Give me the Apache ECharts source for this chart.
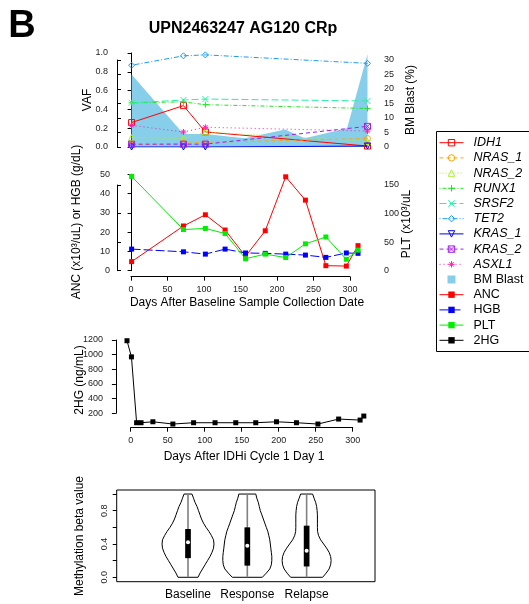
<!DOCTYPE html>
<html>
<head>
<meta charset="utf-8">
<script src="https://cdn.jsdelivr.net/npm/echarts@6/dist/echarts.min.js"></script>
<style>html,body{margin:0;padding:0;background:#fff}#main{width:529px;height:604px}</style>
</head>
<body>
<div id="main"></div>
<script>
// --- top panel: VAF per gene + bone marrow blasts
var vafDays = [0, 71, 101, 323];
var vafIDH1 = [0.26, 0.44, 0.16, 0.01];
var vafNRAS1 = [0.02, 0.04, 0.05, 0.09];
var vafNRAS2 = [0.10, 0.09, 0.16, 0.06];
var vafRUNX1 = [0.47, 0.48, 0.45, 0.41];
var vafSRSF2 = [0.47, 0.50, 0.51, 0.49];
var vafTET2 = [0.87, 0.97, 0.98, 0.89];
var vafKRAS1 = [0.0, 0.0, 0.0, 0.01];
var vafKRAS2 = [0.03, 0.03, 0.03, 0.22];
var vafASXL1 = [0.23, 0.16, 0.21, 0.17];
var blastDays = [0, 71, 101, 155, 210, 237, 295, 323];
var blastPct = [25, 4.5, 4.5, 3, 6, 3, 6.5, 32];

// --- middle panel: counts
var cbcDays = [0, 71, 101, 128, 156, 183, 211, 238, 266, 294, 310];
var anc = [4.7, 23.2, 29.0, 21.1, 7.5, 20.7, 48.7, 36.6, 2.6, 2.4, 13.0];
var hgb = [11.2, 9.8, 8.6, 11.2, 9.2, 9.0, 8.6, 8.1, 6.9, 9.2, 9.0];
var plt = [165, 72, 74, 65, 21, 29, 23, 47, 59, 20, 36];

// --- 2HG panel
var hgDays = [-5, 1, 8, 14, 30, 57, 85, 114, 142, 169, 197, 224, 253, 281, 310, 315];
var hg2 = [1190, 970, 72, 72, 85, 54, 72, 72, 72, 72, 85, 72, 54, 122, 108, 163];

// --- methylation violins (half widths in category units at each level)
var violinGroups = ['Baseline', 'Response', 'Relapse'];
var violinLevels = [0, 0.05, 0.1, 0.15, 0.2, 0.25, 0.3, 0.35, 0.4, 0.45, 0.5, 0.55, 0.6, 0.65, 0.7, 0.75, 0.8, 0.85, 0.9, 0.95, 1.0];
var violinBaseline = [.169, .202, .245, .287, .329, .371, .405, .430, .438, .430, .396, .354, .304, .261, .228, .202, .177, .152, .118, .093, .067];
var violinResponse = [.253, .320, .379, .405, .413, .413, .405, .396, .388, .379, .363, .346, .320, .295, .270, .245, .219, .202, .185, .160, .143];
var violinRelapse = [.270, .329, .379, .405, .413, .405, .379, .337, .287, .236, .202, .185, .182, .182, .182, .182, .177, .169, .152, .126, .101];
var violinQ1 = [0.23, 0.14, 0.13];
var violinMedian = [0.42, 0.38, 0.32];
var violinQ3 = [0.58, 0.60, 0.62];
var violinMin = [0, 0, 0];
var violinMax = [1, 1, 1];

var FONT = '"Liberation Sans", Arial, Helvetica, sans-serif';
var INK = '#222';

var geneStyle = {
  IDH1:   {color: '#ff0000', dash: 'solid', symbol: 'path://M0,0L10,0L10,10L0,10Z'},
  NRAS_1: {color: '#ffa500', dash: [4, 3], symbol: 'circle'},
  NRAS_2: {color: '#a8f02a', dash: [1, 2], symbol: 'triangle'},
  RUNX1:  {color: '#1ee61e', dash: [1, 2, 4, 2], symbol: 'path://M0,5L10,5M5,0L5,10'},
  SRSF2:  {color: '#2bf0a5', dash: [7, 3], symbol: 'path://M0,0L10,10M10,0L0,10'},
  TET2:   {color: '#1e9bf0', dash: [1, 2, 5, 2], symbol: 'diamond'},
  KRAS_1: {color: '#0000ee', dash: 'solid', symbol: 'triangle', rotate: 180},
  KRAS_2: {color: '#a020f0', dash: [4, 3], symbol: 'path://M0,0L10,0L10,10L0,10Z M0,0L10,10M10,0L0,10'},
  ASXL1:  {color: '#ff1db4', dash: [1, 3], symbol: 'path://M0,5L10,5M5,0L5,10M1.5,1.5L8.5,8.5M8.5,1.5L1.5,8.5'}
};
var geneValues = {
  IDH1: vafIDH1, NRAS_1: vafNRAS1, NRAS_2: vafNRAS2, RUNX1: vafRUNX1, SRSF2: vafSRSF2,
  TET2: vafTET2, KRAS_1: vafKRAS1, KRAS_2: vafKRAS2, ASXL1: vafASXL1
};

function pairs(xs, ys) {
  return xs.map(function (x, i) { return [x, ys[i]]; });
}

function geneSeries(name) {
  var s = geneStyle[name];
  return {
    name: name, type: 'line', xAxisIndex: 0, yAxisIndex: 0,
    data: pairs(vafDays, geneValues[name]),
    symbol: s.symbol, symbolSize: 6, symbolRotate: s.rotate || 0,
    lineStyle: {color: s.color, width: 1, type: s.dash},
    itemStyle: {color: 'rgba(0,0,0,0)', borderColor: s.color, borderWidth: 1},
    z: 3, silent: true
  };
}

function countSeries(name, color, xi, yi, xs, ys, dash) {
  return {
    name: name, type: 'line', xAxisIndex: xi, yAxisIndex: yi,
    data: pairs(xs, ys), symbol: 'rect', symbolSize: 5,
    lineStyle: {color: color, width: 1, type: dash || 'solid'},
    itemStyle: {color: color}, z: 3, silent: true
  };
}

function hiddenAxis(g, min, max) {
  return {type: 'value', gridIndex: g, show: false, min: min, max: max};
}

function plain(v) { return String(v); }

function tickAxis(g, pos, min, max, step, extra) {
  var a = {
    type: 'value', gridIndex: g, position: pos, min: min, max: max, interval: step,
    axisLine: {show: true, lineStyle: {color: '#000', width: 1}},
    axisTick: {show: true, inside: false, length: 4, lineStyle: {color: '#000'}},
    axisLabel: {fontFamily: FONT, fontSize: 9, color: INK, margin: 7, formatter: plain},
    splitLine: {show: false}
  };
  for (var k in extra) a[k] = extra[k];
  return a;
}

var violinWidths = [violinBaseline, violinResponse, violinRelapse];

function renderViolin(params, api) {
  var k = params.dataIndex;
  var cx = api.value(0);
  var prof = violinWidths[k];
  var right = [], left = [];
  for (var i = 0; i < violinLevels.length; i++) {
    right.push(api.coord([cx + prof[i], violinLevels[i]]));
    left.push(api.coord([cx - prof[i], violinLevels[i]]));
  }
  var pts = right.concat(left.reverse());
  var wTop = api.coord([cx, violinMax[k]]);
  var wBot = api.coord([cx, violinMin[k]]);
  var b1 = api.coord([cx - 0.048, violinQ3[k]]);
  var b2 = api.coord([cx + 0.048, violinQ1[k]]);
  var med = api.coord([cx, violinMedian[k]]);
  return {
    type: 'group', children: [
      {type: 'polygon', shape: {points: pts}, style: {fill: '#fff', stroke: '#000', lineWidth: 1}},
      {type: 'line', shape: {x1: wTop[0], y1: wTop[1], x2: wBot[0], y2: wBot[1]}, style: {stroke: '#808080', lineWidth: 1.6}},
      {type: 'rect', shape: {x: b1[0], y: b1[1], width: b2[0] - b1[0], height: b2[1] - b1[1]}, style: {fill: '#000'}},
      {type: 'circle', shape: {cx: med[0], cy: med[1], r: 2}, style: {fill: '#fff'}}
    ]
  };
}

var series = [
  {
    name: 'BM Blast', type: 'line', xAxisIndex: 0, yAxisIndex: 1,
    data: pairs(blastDays, blastPct), symbol: 'none',
    lineStyle: {width: 0}, areaStyle: {color: '#87ceeb', opacity: 1},
    itemStyle: {color: '#87ceeb'}, z: 1, silent: true
  }
];
Object.keys(geneStyle).forEach(function (g) { series.push(geneSeries(g)); });
series.push(countSeries('ANC', '#ff0000', 2, 3, cbcDays, anc));
series.push(countSeries('HGB', '#0000ff', 2, 3, cbcDays, hgb, [9, 3]));
series.push(countSeries('PLT', '#00ee00', 2, 4, cbcDays, plt));
series.push(countSeries('2HG', '#000000', 5, 7, hgDays, hg2));
series.push({
  type: 'custom', xAxisIndex: 8, yAxisIndex: 10,
  data: violinGroups.map(function (g, i) { return [i + 1]; }),
  renderItem: renderViolin, silent: true, z: 2
});

var legendData = Object.keys(geneStyle).map(function (g) {
  return {name: g, textStyle: {fontStyle: 'italic'}};
});
legendData.push({name: 'BM Blast', icon: 'path://M0,0L10,0L10,10L0,10Z'});
['ANC', 'HGB', 'PLT', '2HG'].forEach(function (n) { legendData.push({name: n}); });

function vtext(str, x, y, size, rot) {
  return {
    type: 'text', x: x, y: y, rotation: rot || 0, silent: true,
    style: {text: str, font: size + 'px ' + FONT, fill: '#000', align: 'center', verticalAlign: 'middle'}
  };
}

var chart = echarts.init(document.getElementById('main'));
chart.setOption({
  animation: false,
  backgroundColor: '#fff',
  grid: [
    {left: 117, top: 53, width: 260, height: 94},
    {left: 117, top: 60, width: 260, height: 87},
    {left: 117, top: 174.3, width: 260, height: 96.4},
    {left: 117, top: 185, width: 260, height: 85.7},
    {left: 131, top: 200, width: 219, height: 76.7},
    {left: 115.9, top: 340, width: 251.6, height: 88},
    {left: 115.9, top: 340, width: 251.6, height: 73.3},
    {left: 130.7, top: 350, width: 222, height: 77.7},
    {left: 116.7, top: 490, width: 258.3, height: 91.7, show: true, borderColor: '#000', borderWidth: 1, backgroundColor: 'transparent'},
    {left: 116.7, top: 494.05, width: 258.3, height: 83.25},
    {left: 128.7, top: 500, width: 237.2, height: 81.7}
  ].map(function (g) { g.outerBoundsMode = 'none'; g.containLabel = false; return g; }),
  xAxis: [
    hiddenAxis(0, -20, 336),
    hiddenAxis(1, 0, 1),
    hiddenAxis(2, -20, 336),
    hiddenAxis(3, 0, 1),
    tickAxis(4, 'bottom', 0, 300, 50, {axisLabel: {fontFamily: FONT, fontSize: 9, color: INK, margin: 8}}),
    hiddenAxis(5, -20, 320),
    hiddenAxis(6, 0, 1),
    tickAxis(7, 'bottom', 0, 300, 50, {axisLabel: {fontFamily: FONT, fontSize: 9, color: INK, margin: 8}}),
    hiddenAxis(8, -0.2024, 4.153),
    hiddenAxis(9, 0, 1),
    tickAxis(10, 'bottom', 0, 4, 1, {
      axisLine: {show: false}, axisTick: {show: false},
      axisLabel: {fontFamily: FONT, fontSize: 12, color: '#000', margin: 7,
        formatter: function (v) { return violinGroups[v - 1] || ''; }}
    })
  ],
  yAxis: [
    tickAxis(0, 'left', 0, 1, 0.2, {offset: 2, axisLabel: {fontFamily: FONT, fontSize: 9, color: INK, margin: 7,
      formatter: function (v) { return v.toFixed(1); }}}),
    hiddenAxis(0, 0, 32.41),
    tickAxis(1, 'right', 0, 30, 5),
    tickAxis(2, 'left', 0, 50, 10),
    hiddenAxis(2, 0, 168.7),
    tickAxis(3, 'right', 0, 150, 50),
    hiddenAxis(4, 0, 1),
    hiddenAxis(5, 0, 1200),
    tickAxis(6, 'left', 200, 1200, 200, {offset: 6}),
    hiddenAxis(7, 0, 1),
    hiddenAxis(8, -0.0529, 1.0486),
    tickAxis(9, 'left', 0, 1, 0.2, {
      axisLine: {show: false},
      axisLabel: {fontFamily: FONT, fontSize: 9, color: INK, margin: 8, rotate: 90,
        formatter: function (v) { return (Math.round(v * 10) % 4 === 0) ? v.toFixed(1) : ''; }}
    }),
    hiddenAxis(10, 0, 1)
  ],
  legend: {
    orient: 'vertical', left: 439, top: 136.2, padding: 0,
    itemWidth: 24, itemHeight: 8, itemGap: 2.2,
    symbolKeepAspect: true,
    itemStyle: {borderWidth: 1},
    lineStyle: {width: 1},
    textStyle: {fontFamily: FONT, fontSize: 12.5, lineHeight: 13, color: '#000', padding: [0, 0, 0, 5]},
    selectedMode: false,
    data: legendData
  },
  graphic: [
    {type: 'rect', shape: {x: 436.5, y: 131.5, width: 110, height: 220}, style: {fill: 'none', stroke: '#000', lineWidth: 1}, silent: true},
    {type: 'text', x: 22, y: 27, style: {text: 'B', font: 'bold 38px ' + FONT, fill: '#000', align: 'center', verticalAlign: 'middle'}},
    {type: 'text', x: 243, y: 29, style: {text: 'UPN2463247 AG120 CRp', font: 'bold 16px ' + FONT, fill: '#000', align: 'center', verticalAlign: 'middle'}},
    vtext('VAF', 88, 100, 12, Math.PI / 2),
    vtext('BM Blast (%)', 411, 100, 12, Math.PI / 2),
    vtext('ANC (x10\u00b3/uL) or HGB (g/dL)', 77, 222, 12, Math.PI / 2),
    vtext('PLT (x10\u00b3/uL', 407, 224, 12, Math.PI / 2),
    vtext('Days After Baseline Sample Collection Date', 247, 303, 12),
    vtext('2HG (ng/mL)', 80, 380, 12, Math.PI / 2),
    vtext('Days After IDHi Cycle 1 Day 1', 244, 457, 12),
    vtext('Methylation beta value', 80, 536, 12, Math.PI / 2)
  ],
  series: series
});
</script>
</body>
</html>
